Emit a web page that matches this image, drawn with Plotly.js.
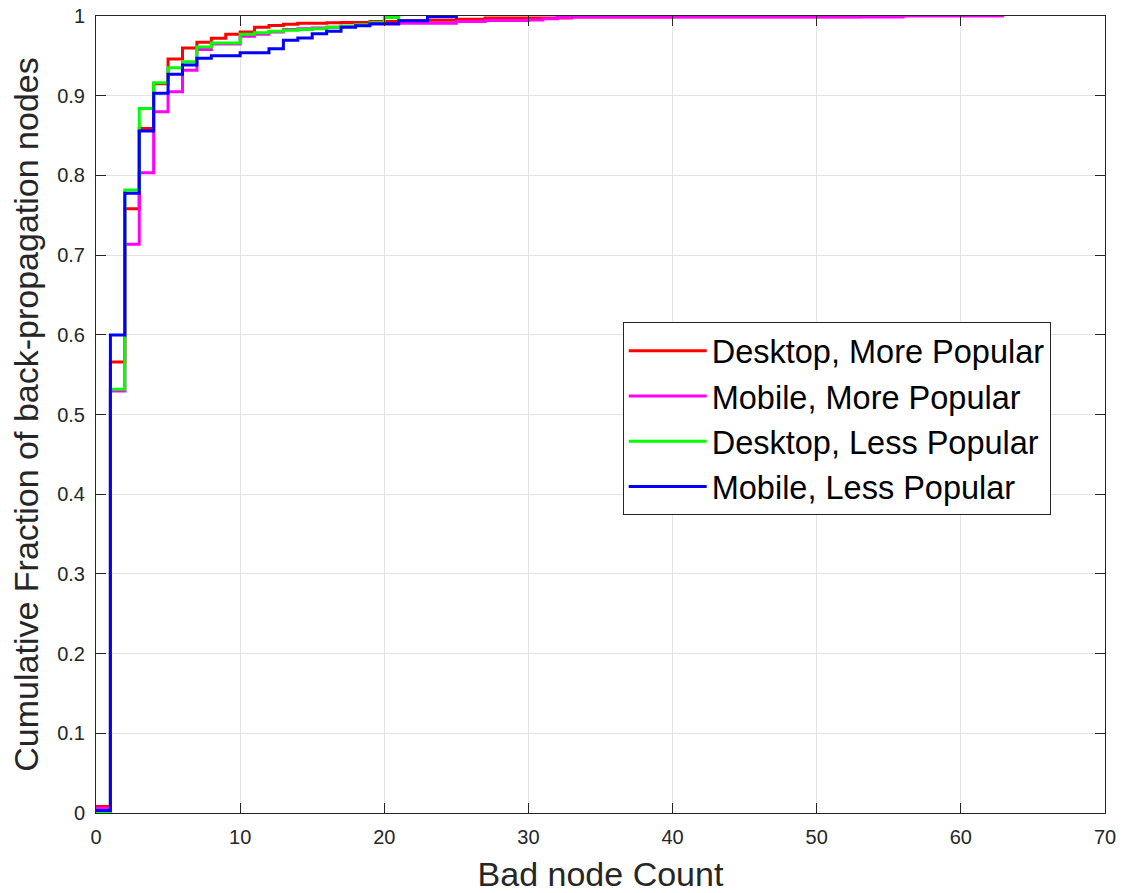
<!DOCTYPE html>
<html>
<head>
<meta charset="utf-8">
<script src="https://cdn.plot.ly/plotly-3.0.1.min.js"></script>
<style>
  html, body { margin: 0; padding: 0; background: #ffffff; }
  #chart { width: 1130px; height: 893px; }
</style>
</head>
<body>
<div id="chart"></div>
<script>
// ---- Data ----
const seriesNames = ["Desktop, More Popular", "Mobile, More Popular", "Desktop, Less Popular", "Mobile, Less Popular"];

const desktopMoreX = [0, 1, 2, 3, 4, 5, 6, 7, 8, 9, 10, 11, 12, 13, 14, 16, 17, 19, 21, 23, 25, 27, 33, 40, 53, 56];
const desktopMoreY = [0.008, 0.566, 0.758, 0.859, 0.915, 0.946, 0.960, 0.967, 0.972, 0.977, 0.980, 0.986, 0.988, 0.9895, 0.991, 0.9915, 0.992, 0.993, 0.994, 0.9948, 0.996, 0.9975, 0.9987, 0.999, 1.0, 1.0];

const mobileMoreX = [0, 1, 2, 3, 4, 5, 6, 7, 8, 10, 11, 12, 13, 14, 15, 16, 17, 18, 19, 21, 25, 27, 30, 31, 32, 33, 56, 63];
const mobileMoreY = [0.006, 0.5295, 0.7135, 0.8034, 0.880, 0.905, 0.932, 0.958, 0.965, 0.9745, 0.977, 0.980, 0.983, 0.984, 0.985, 0.986, 0.987, 0.989, 0.990, 0.991, 0.993, 0.9945, 0.995, 0.9967, 0.998, 0.9988, 1.0, 1.0];

const desktopLessX = [0, 1, 2, 3, 4, 5, 6, 7, 8, 10, 11, 12, 13, 14, 15, 16, 17, 18, 19, 20, 21];
const desktopLessY = [0.0, 0.5316, 0.7817, 0.884, 0.9163, 0.935, 0.9427, 0.961, 0.966, 0.977, 0.979, 0.981, 0.982, 0.983, 0.984, 0.986, 0.987, 0.989, 0.992, 0.998, 1.0];

const mobileLessX = [0, 1, 2, 3, 4, 5, 6, 7, 8, 10, 12, 13, 14, 15, 16, 17, 18, 19, 21, 23, 25];
const mobileLessY = [0.003, 0.5997, 0.7775, 0.8557, 0.903, 0.927, 0.9385, 0.947, 0.950, 0.954, 0.959, 0.9695, 0.9724, 0.9778, 0.9808, 0.9858, 0.9879, 0.9904, 0.994, 0.999, 1.0];

const xTickVals = [0, 10, 20, 30, 40, 50, 60, 70];
const yTickVals = [0, 0.1, 0.2, 0.3, 0.4, 0.5, 0.6, 0.7, 0.8, 0.9, 1];
const yTickText = ["0", "0.1", "0.2", "0.3", "0.4", "0.5", "0.6", "0.7", "0.8", "0.9", "1"];

const xTitle = "Bad node Count";
const yTitle = "Cumulative Fraction of back-propagation nodes";

// ---- Styles ----
const colors = ["#ff0000", "#ff00ff", "#00ff00", "#0000ff"];
const xs = [desktopMoreX, mobileMoreX, desktopLessX, mobileLessX];
const ys = [desktopMoreY, mobileMoreY, desktopLessY, mobileLessY];

const traces = seriesNames.map((name, i) => ({
  type: "scatter",
  mode: "lines",
  name: name,
  x: xs[i],
  y: ys[i],
  line: { color: colors[i], width: 3, shape: "hv" },
  hoverinfo: "skip"
}));

const fontFamily = "'Liberation Sans', Arial, Helvetica, sans-serif";

const axisCommon = {
  showline: true,
  linecolor: "#262626",
  linewidth: 1,
  mirror: "ticks",
  ticks: "inside",
  ticklen: 10,
  tickwidth: 1,
  tickcolor: "#262626",
  showgrid: true,
  gridcolor: "#e3e3e3",
  gridwidth: 1,
  zeroline: false,
  tickfont: { family: fontFamily, size: 20, color: "#262626" }
};

const layout = {
  width: 1130,
  height: 893,
  paper_bgcolor: "#ffffff",
  plot_bgcolor: "#ffffff",
  margin: { l: 96, r: 25, t: 16, b: 80, pad: 0 },
  showlegend: true,
  font: { family: fontFamily },
  xaxis: Object.assign({}, axisCommon, {
    range: [0, 70],
    tickvals: xTickVals,
    ticktext: xTickVals.map(String),
    ticklabelstandoff: 6,
    title: { text: xTitle, font: { family: fontFamily, size: 34, color: "#262626" }, standoff: 19 }
  }),
  yaxis: Object.assign({}, axisCommon, {
    range: [0, 1],
    tickvals: yTickVals,
    ticktext: yTickText,
    ticklabelstandoff: 6,
    title: { text: yTitle, font: { family: fontFamily, size: 34, color: "#262626" }, standoff: 8 }
  }),
  legend: {
    x: 0.522,
    y: 0.616,
    xanchor: "left",
    yanchor: "top",
    bgcolor: "#ffffff",
    bordercolor: "#262626",
    borderwidth: 1,
    font: { family: fontFamily, size: 32.5, color: "#000000" },
    itemwidth: 78,
    tracegroupgap: 0
  }
};

Plotly.newPlot("chart", traces, layout, { displayModeBar: false, staticPlot: true });
</script>
</body>
</html>
